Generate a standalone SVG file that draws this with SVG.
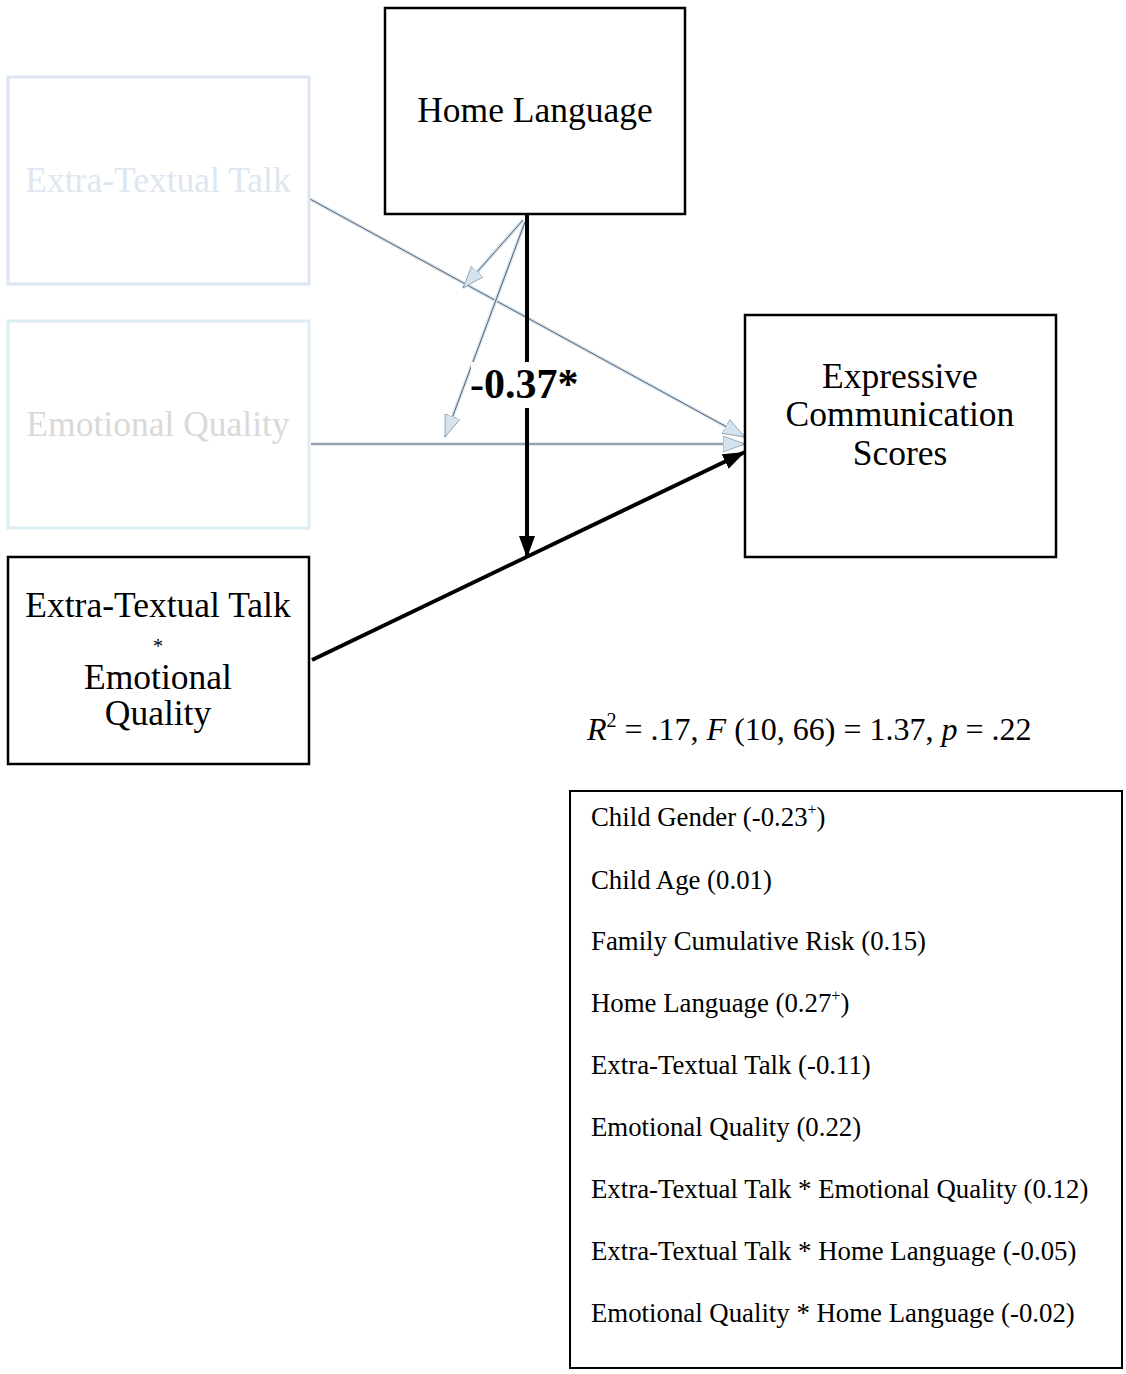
<svg xmlns="http://www.w3.org/2000/svg" width="1126" height="1374" viewBox="0 0 1126 1374">
<defs>
<style>
text{font-family:"Liberation Serif","Times New Roman",serif;fill:#000}
.box{fill:#fff;stroke:#000;stroke-width:2.5}
.fbox1{fill:#fff;stroke:#dbe6f2;stroke-width:3}
.fbox2{fill:#fff;stroke:#dbeef4;stroke-width:3}
.lbl{font-size:35.5px;text-anchor:middle}
.cov{font-size:26.8px}
.halo{fill:none;stroke:#d3e2ee;stroke-width:3.5}
.core{fill:none;stroke:#4a5560;stroke-width:0.9}
.thick{fill:none;stroke:#000;stroke-width:4}
</style>
<marker id="ab" markerUnits="userSpaceOnUse" markerWidth="24" markerHeight="18" refX="22" refY="8" orient="auto">
<path d="M0,0 L22,8 L0,16 z" fill="#000"/>
</marker>
<marker id="al" markerUnits="userSpaceOnUse" markerWidth="24" markerHeight="18" refX="22" refY="8" orient="auto">
<path d="M0,0 L22,8 L0,16 z" fill="#d5e3ee" stroke="#7f909c" stroke-width="0.7"/>
</marker>
</defs>
<rect width="1126" height="1374" fill="#fff"/>
<g id="connectors">
<line x1="310" y1="199" x2="745" y2="437" class="halo"/>
<line x1="310" y1="199" x2="745" y2="437" class="core" marker-end="url(#al)"/>
<line x1="311" y1="444" x2="745" y2="444" class="halo"/>
<line x1="311" y1="444" x2="745" y2="444" class="core" marker-end="url(#al)"/>
<line x1="523" y1="220" x2="463" y2="288" class="halo"/>
<line x1="523" y1="220" x2="463" y2="288" class="core" stroke-width="1.6" marker-end="url(#al)"/>
<line x1="525" y1="222" x2="445" y2="437" class="halo"/>
<line x1="525" y1="222" x2="445" y2="437" class="core" stroke-width="1.6" marker-end="url(#al)"/>
<line x1="312" y1="660" x2="745" y2="452" class="thick" marker-end="url(#ab)"/>
<line x1="527" y1="214" x2="527" y2="558" class="thick" marker-end="url(#ab)"/>
<rect x="471" y="362" width="108" height="46" fill="#fff"/>
<text x="470" y="398" font-size="42" font-weight="bold">-0.37*</text>
</g>
<g id="home-language">
<rect x="385" y="8" width="300" height="206" class="box"/>
<text x="535" y="122" class="lbl">Home Language</text>
</g>
<g id="extra-textual-talk">
<rect x="8" y="77" width="301" height="207" class="fbox1"/>
<text x="158" y="192" class="lbl" style="fill:#dde6f1">Extra-Textual Talk</text>
</g>
<g id="emotional-quality">
<rect x="8" y="321" width="301" height="207" class="fbox2"/>
<text x="158" y="436" class="lbl" style="fill:#d9d9d9">Emotional Quality</text>
</g>
<g id="interaction">
<rect x="8" y="557" width="301" height="207" class="box"/>
<text x="158" y="617" class="lbl">Extra-Textual Talk</text>
<text x="158" y="653" font-size="20" text-anchor="middle">*</text>
<text x="158" y="689" class="lbl">Emotional</text>
<text x="158" y="725" class="lbl">Quality</text>
</g>
<g id="expressive">
<rect x="745" y="315" width="311" height="242" class="box"/>
<text x="900" y="388" class="lbl">Expressive</text>
<text x="900" y="426" class="lbl">Communication</text>
<text x="900" y="465" class="lbl">Scores</text>
</g>
<g id="model-fit">
<text x="587" y="740" font-size="32"><tspan font-style="italic">R</tspan><tspan font-size="20" dy="-13">2</tspan><tspan dy="13"> = .17, </tspan><tspan font-style="italic">F</tspan> (10, 66) = 1.37, <tspan font-style="italic">p</tspan> = .22</text>
</g>
<g id="covariates">
<rect x="570" y="791" width="552" height="577" fill="#fff" stroke="#000" stroke-width="2"/>
<text x="591" y="826" class="cov">Child Gender (-0.23<tspan font-size="16" dy="-11">+</tspan><tspan dy="11">)</tspan></text>
<text x="591" y="889" class="cov">Child Age (0.01)</text>
<text x="591" y="950" class="cov">Family Cumulative Risk (0.15)</text>
<text x="591" y="1012" class="cov">Home Language (0.27<tspan font-size="16" dy="-11">+</tspan><tspan dy="11">)</tspan></text>
<text x="591" y="1074" class="cov">Extra-Textual Talk (-0.11)</text>
<text x="591" y="1136" class="cov">Emotional Quality (0.22)</text>
<text x="591" y="1198" class="cov">Extra-Textual Talk * Emotional Quality (0.12)</text>
<text x="591" y="1260" class="cov">Extra-Textual Talk * Home Language (-0.05)</text>
<text x="591" y="1322" class="cov">Emotional Quality * Home Language (-0.02)</text>
</g>
</svg>
